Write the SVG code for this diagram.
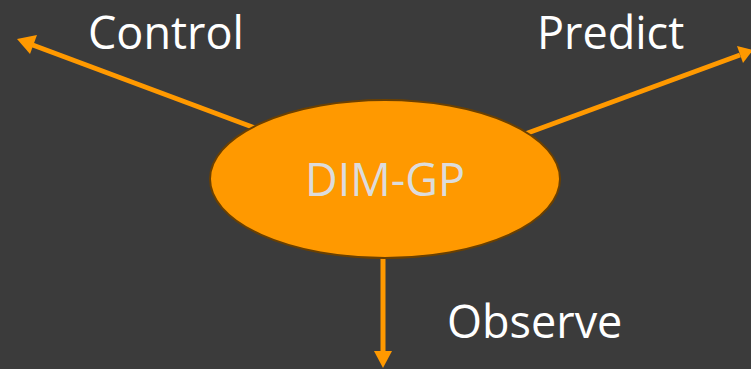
<svg xmlns="http://www.w3.org/2000/svg" width="751" height="369" viewBox="0 0 751 369">
<defs>
<style>
.lbl{font-family:"Open Sans","Noto Sans",sans-serif;font-size:45px;fill:#ffffff}
.edge{stroke:#ff9900;stroke-width:5;fill:none}
.head{fill:#ff9900}
</style>
</defs>
<rect width="751" height="369" fill="#3b3b3b"/>
<g id="connectors">
<line class="edge" x1="255" y1="128" x2="30" y2="44"/>
<polygon class="head" points="17,39 37,35 30,54"/>
<line class="edge" x1="525" y1="134" x2="740" y2="55"/>
<polygon class="head" points="753,50 737,46 743,63"/>
<line class="edge" x1="383" y1="258" x2="383" y2="353"/>
<polygon class="head" points="383,368 374,351 392,351"/>
</g>
<g id="dimgp">
<ellipse cx="385" cy="179" rx="175" ry="79" fill="#ff9900" stroke="#6b4000" stroke-width="2"/>
<text x="385" y="196" text-anchor="middle" font-family="'Open Sans','Noto Sans',sans-serif" font-size="45" fill="#dcdcdc">DIM-GP</text>
</g>
<g id="control"><text class="lbl" x="88" y="49">Control</text></g>
<g id="predict"><text class="lbl" x="537" y="49">Predict</text></g>
<g id="observe"><text class="lbl" x="447" y="338">Observe</text></g>
</svg>
